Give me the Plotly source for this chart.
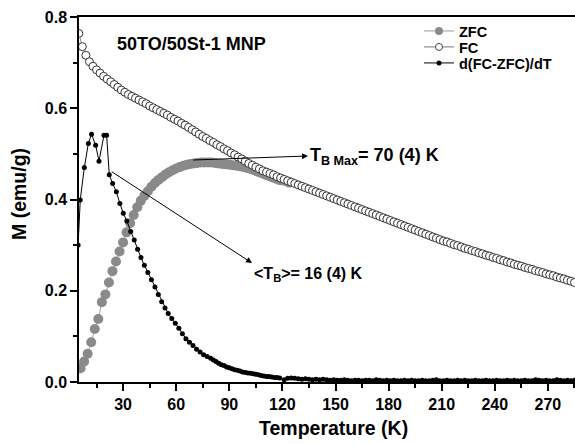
import plotly.graph_objects as go

# ---------------- data ----------------
FC_T = list(range(5, 286, 2))
FC_M = [0.764, 0.735, 0.716, 0.702, 0.692, 0.684, 0.677, 0.670, 0.664, 0.658,
        0.652, 0.646, 0.640, 0.635, 0.630, 0.626, 0.622, 0.618, 0.614, 0.610,
        0.605, 0.601, 0.597, 0.593, 0.589, 0.585, 0.580, 0.576, 0.572, 0.567,
        0.563, 0.558, 0.553, 0.548, 0.543, 0.538, 0.534, 0.529, 0.525, 0.520,
        0.516, 0.511, 0.507, 0.502, 0.498, 0.493, 0.489, 0.484, 0.479, 0.475,
        0.471, 0.467, 0.463, 0.460, 0.457, 0.454, 0.450, 0.447, 0.444, 0.441,
        0.438, 0.435, 0.432, 0.429, 0.426, 0.423, 0.420, 0.417, 0.414, 0.411,
        0.408, 0.405, 0.402, 0.399, 0.396, 0.393, 0.390, 0.387, 0.384, 0.381,
        0.378, 0.375, 0.372, 0.369, 0.366, 0.363, 0.360, 0.357, 0.354, 0.351,
        0.348, 0.345, 0.342, 0.339, 0.336, 0.333, 0.330, 0.327, 0.324, 0.321,
        0.318, 0.315, 0.312, 0.309, 0.307, 0.304, 0.301, 0.299, 0.296, 0.293,
        0.291, 0.288, 0.286, 0.283, 0.281, 0.278, 0.276, 0.273, 0.271, 0.268,
        0.266, 0.263, 0.261, 0.258, 0.256, 0.254, 0.251, 0.249, 0.247, 0.244,
        0.242, 0.240, 0.237, 0.235, 0.233, 0.230, 0.228, 0.226, 0.223, 0.221,
        0.218]

ZFC_T = list(range(6, 125, 2))
ZFC_M = [0.030, 0.045, 0.062, 0.087, 0.116, 0.138, 0.175, 0.192, 0.218, 0.243,
         0.264, 0.286, 0.306, 0.328, 0.348, 0.366, 0.383, 0.397, 0.408, 0.418,
         0.428, 0.436, 0.443, 0.449, 0.455, 0.460, 0.464, 0.468, 0.471, 0.474,
         0.476, 0.478, 0.479, 0.480, 0.481, 0.481, 0.481, 0.481, 0.480, 0.479,
         0.478, 0.477, 0.476, 0.475, 0.474, 0.473, 0.471, 0.469, 0.467, 0.464,
         0.461, 0.458, 0.455, 0.452, 0.449, 0.446, 0.443, 0.442, 0.440, 0.437]

DT1_T = [4.6, 5.8, 8.1, 10.4, 12.2, 14.5, 16.4, 19.2, 20.7, 22.2,
         24.1, 26.2, 28.2, 30.1, 32.1, 34.3, 36.3, 38.2, 40.1, 42.0,
         44.0, 46.0, 48.0, 49.9, 51.8, 53.7, 55.5, 57.5, 59.5, 61.5,
         63.5, 65.5, 67.5, 69.5, 71.5, 73.5, 75.5, 77.5, 79.5, 81.0,
         82.5, 84.0, 85.5, 87.0, 88.5, 90.0, 91.5, 93.0, 94.5, 96.0,
         97.5, 99.0, 100.5, 102.0, 103.5, 105.0, 106.5, 108.0, 109.5, 111.0,
         112.5, 114.0, 115.5, 117.0, 118.5]
DT1_M = [0.300, 0.399, 0.470, 0.523, 0.543, 0.519, 0.484, 0.541, 0.541, 0.454,
         0.435, 0.417, 0.391, 0.370, 0.353, 0.330, 0.311, 0.291, 0.273, 0.256,
         0.240, 0.224, 0.208, 0.192, 0.176, 0.162, 0.150, 0.139, 0.129, 0.118,
         0.106, 0.095, 0.087, 0.080, 0.072, 0.066, 0.060, 0.056, 0.052, 0.048,
         0.045, 0.041, 0.038, 0.036, 0.033, 0.031, 0.029, 0.027, 0.026, 0.024,
         0.022, 0.021, 0.020, 0.019, 0.018, 0.017, 0.016, 0.014, 0.013, 0.012,
         0.012, 0.011, 0.010, 0.010, 0.009]
DT2_T = list(range(121, 286, 2))
DT2_M = [0.005, 0.008, 0.009, 0.008, 0.007, 0.006, 0.007, 0.006, 0.005, 0.006,
         0.005, 0.006, 0.005, 0.004, 0.005, 0.004, 0.004, 0.005, 0.004, 0.003,
         0.004, 0.004, 0.003, 0.004, 0.004, 0.003, 0.005, 0.004, 0.003, 0.004,
         0.003, 0.004, 0.003, 0.003, 0.004, 0.003, 0.004, 0.003, 0.003, 0.004,
         0.003, 0.003, 0.004, 0.005, 0.003, 0.003, 0.004, 0.003, 0.003, 0.004,
         0.003, 0.004, 0.003, 0.003, 0.004, 0.003, 0.003, 0.004, 0.003, 0.003,
         0.004, 0.003, 0.003, 0.004, 0.003, 0.004, 0.003, 0.003, 0.004, 0.003,
         0.003, 0.005, 0.004, 0.003, 0.004, 0.003, 0.003, 0.005, 0.004, 0.003,
         0.004, 0.003, 0.004]

LEGEND_NAMES = ["ZFC", "FC", "d(FC-ZFC)/dT"]
SAMPLE_LABEL = "50TO/50St-1 MNP"
TBMAX_LABEL = "T<sub>B Max</sub>= 70 (4) K"
TBAVG_LABEL = "&lt;T<sub>B</sub>&gt;= 16 (4) K"
X_TITLE = "Temperature (K)"
Y_TITLE = "M (emu/g)"

# ---------------- figure ----------------
FONT = "Arial, 'Liberation Sans', sans-serif"
W, H = 575, 444
L, R, T, B = 79, 0, 17, 62
PW, PH = W - L - R, H - T - B
X0, X1, Y0, Y1 = 5.1, 285.3, 0.0, 0.8


def px(xp):
    return (xp - L) / PW


def py(yp):
    return (H - B - yp) / PH


def dx(xp):  # pixel -> data x
    return X0 + (xp - L) / PW * (X1 - X0)


def dy(yp):  # pixel -> data y
    return Y0 + (H - B - yp) / PH * (Y1 - Y0)


fig = go.Figure()

fig.add_trace(go.Scatter(
    x=ZFC_T, y=ZFC_M, mode="lines+markers", showlegend=False,
    line=dict(color="#a8a8a8", width=1),
    marker=dict(color="#8a8a8a", size=10, line=dict(width=0))))

fig.add_trace(go.Scatter(
    x=FC_T, y=FC_M, mode="lines+markers", showlegend=False,
    line=dict(color="#666666", width=0.8),
    marker=dict(color="white", size=8, line=dict(color="#333333", width=1))))

fig.add_trace(go.Scatter(
    x=DT1_T + [None] + DT2_T, y=DT1_M + [None] + DT2_M,
    mode="lines+markers", showlegend=False, connectgaps=False,
    line=dict(color="black", width=1),
    marker=dict(color="black", size=5)))

# legend-only traces (one legend each for precise placement)
leg_styles = [
    dict(line=dict(color="#999999", width=1), marker=dict(color="#8a8a8a", size=8)),
    dict(line=dict(color="#777777", width=1), marker=dict(color="white", size=7, line=dict(color="#444444", width=1))),
    dict(line=dict(color="black", width=1), marker=dict(color="black", size=5)),
]
leg_rows = [31, 47, 63]
for i, (name, st) in enumerate(zip(LEGEND_NAMES, leg_styles)):
    lg = "legend" if i == 0 else f"legend{i+1}"
    fig.add_trace(go.Scatter(x=[None], y=[None], mode="lines+markers", name=name,
                             legend=lg, showlegend=True, **st))

legend_common = dict(xanchor="left", yanchor="middle", bgcolor="rgba(0,0,0,0)",
                     borderwidth=0, font=dict(family=FONT, size=14.5, color="black", weight="bold"))
layout_legends = {}
for i, yr in enumerate(leg_rows):
    key = "legend" if i == 0 else f"legend{i+1}"
    layout_legends[key] = dict(x=px(419), y=py(yr), **legend_common)

axis_common = dict(showgrid=False, zeroline=False, ticks="outside", ticklen=7, tickwidth=1.5,
                   tickcolor="black", linecolor="black", linewidth=1.5, showline=True,
                   tickfont=dict(family=FONT, size=16, color="black", weight="bold"))

fig.update_layout(
    width=W, height=H, margin=dict(l=L, r=R, t=T, b=B),
    paper_bgcolor="white", plot_bgcolor="white",
    xaxis=dict(range=[X0, X1], tickmode="linear", tick0=0, dtick=30, mirror=True,
               minor=dict(tickmode="linear", tick0=0, dtick=15, ticks="outside", ticklen=4,
                          tickwidth=1.5, tickcolor="black"),
               **axis_common),
    yaxis=dict(range=[Y0, Y1], tickmode="linear", tick0=0, dtick=0.2, tickformat=".1f",
               minor=dict(tickmode="linear", tick0=0, dtick=0.1, ticks="outside", ticklen=4,
                          tickwidth=1.5, tickcolor="black"),
               **axis_common),
    **layout_legends,
)

fig.add_annotation(x=px(115), y=py(44), xref="paper", yref="paper", text=SAMPLE_LABEL,
                   showarrow=False, xanchor="left", yanchor="middle",
                   font=dict(family=FONT, size=18, color="black", weight="bold"))

# labels with arrows: arrow starts at the curve, arrowhead at the label
fig.add_annotation(x=dx(193), y=dy(160), xref="x", yref="y",
                   ax=dx(308), ay=dy(156), axref="x", ayref="y",
                   text=TBMAX_LABEL, xanchor="left", yanchor="middle",
                   showarrow=True, arrowside="start", startarrowhead=2, startarrowsize=1.2,
                   arrowwidth=1, arrowcolor="black", standoff=0, startstandoff=0,
                   font=dict(family=FONT, size=18, color="black", weight="bold"))
fig.add_annotation(x=dx(111.7), y=dy(171.7), xref="x", yref="y",
                   ax=dx(252), ay=dy(263), axref="x", ayref="y",
                   text=TBAVG_LABEL, xanchor="left", yanchor="top",
                   showarrow=True, arrowside="start", startarrowhead=2, startarrowsize=1.2,
                   arrowwidth=1, arrowcolor="black", standoff=0, startstandoff=0,
                   font=dict(family=FONT, size=16, color="black", weight="bold"))

# axis titles
fig.add_annotation(x=px(19), y=py(194), xref="paper", yref="paper", text=Y_TITLE, textangle=-90,
                   showarrow=False, xanchor="center", yanchor="middle",
                   font=dict(family=FONT, size=19.5, color="black", weight="bold"))
fig.add_annotation(x=px(333), y=py(428), xref="paper", yref="paper", text=X_TITLE,
                   showarrow=False, xanchor="center", yanchor="middle",
                   font=dict(family=FONT, size=19.5, color="black", weight="bold"))

fig.write_html("out.html")
